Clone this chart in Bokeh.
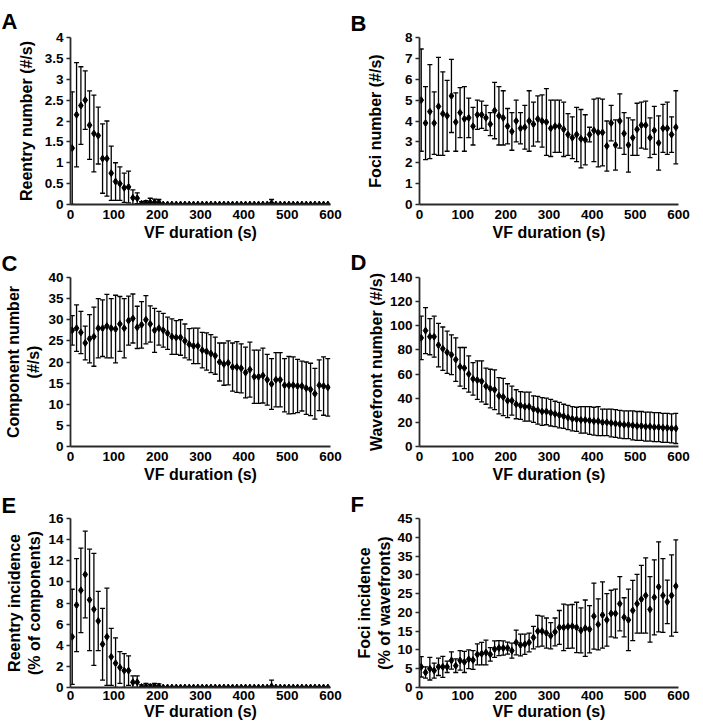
import numpy as np
from bokeh.plotting import figure
from bokeh.models import Range1d, ColumnDataSource, Whisker, TeeHead, FixedTicker, NumeralTickFormatter
from bokeh.layouts import gridplot
from bokeh.embed import file_html
from bokeh.resources import INLINE

# ---------------- data ----------------
vf_time = [4, 14, 24, 34, 44, 54, 64, 74, 84, 94,
           104, 114, 124, 134, 144, 154, 164, 174, 184, 194,
           204, 214, 224, 234, 244, 254, 264, 274, 284, 294,
           304, 314, 324, 334, 344, 354, 364, 374, 384, 394,
           404, 414, 424, 434, 444, 454, 464, 474, 484, 494,
           504, 514, 524, 534, 544, 554, 564, 574, 584, 594]
x_ticks = [0, 100, 200, 300, 400, 500, 600]

reentry_num_mean = [1.35, 2.15, 2.37, 2.50, 1.90, 1.70, 1.65, 1.10, 1.10, 0.75,
                    0.55, 0.50, 0.40, 0.42, 0.16, 0.15, 0.02, 0.03, 0.05, 0.05,
                    0.05, 0, 0, 0, 0, 0, 0, 0, 0, 0,
                    0, 0, 0, 0, 0, 0, 0, 0, 0, 0,
                    0, 0, 0, 0, 0, 0, 0.03, 0, 0, 0,
                    0, 0, 0, 0, 0, 0, 0, 0, 0, 0]
reentry_num_sd = [1.35, 1.25, 0.93, 0.70, 0.82, 0.92, 0.68, 0.83, 0.90, 0.65,
                  0.45, 0.40, 0.35, 0.38, 0.19, 0.13, 0.05, 0.06, 0.10, 0.08,
                  0.07, 0, 0, 0, 0, 0, 0, 0, 0, 0,
                  0, 0, 0, 0, 0, 0, 0, 0, 0, 0,
                  0, 0, 0, 0, 0, 0, 0.09, 0, 0, 0,
                  0, 0, 0, 0, 0, 0, 0, 0, 0, 0]

foci_num_mean = [5.0, 3.9, 4.45, 3.9, 4.7, 4.35, 4.25, 5.2, 3.95, 4.4,
                 4.1, 4.15, 3.75, 4.3, 4.3, 4.15, 3.85, 4.5, 4.25, 4.15,
                 3.75, 3.5, 4.0, 3.65, 3.7, 4.0, 3.85, 4.1, 4.0, 3.95,
                 3.65, 3.75, 3.75, 3.6, 3.35, 3.2, 3.35, 3.15, 3.1, 3.35,
                 3.55, 3.45, 3.45, 2.8, 3.9, 2.85, 4.0, 3.4, 2.85, 3.2,
                 3.6, 3.8, 3.8, 3.2, 3.55, 2.95, 3.65, 3.65, 3.35, 3.7]
foci_num_sd = [2.45, 1.75, 2.25, 1.5, 2.35, 2.0, 1.7, 1.75, 1.4, 1.2,
               1.55, 0.95, 0.9, 0.7, 0.65, 0.6, 0.55, 1.35, 1.4, 1.3,
               0.85, 0.9, 1.0, 0.75, 1.05, 1.45, 1.05, 1.1, 1.25, 1.6,
               1.35, 1.25, 1.25, 1.3, 1.0, 1.0, 1.3, 1.4, 1.2, 0.35,
               1.5, 1.65, 1.6, 1.2, 0.85, 1.2, 1.3, 1.0, 1.3, 0.85,
               1.25, 1.1, 1.15, 0.95, 1.15, 1.3, 1.15, 1.25, 0.85, 1.75]

component_mean = [27.5, 28, 27, 24.5, 25.5, 26, 28, 28, 28.5, 28,
                  27.8, 29, 28, 29.8, 30.3, 28.2, 28.8, 30, 29, 27.5,
                  28, 27.5, 26.8, 26, 25.8, 25.8, 25, 24.2, 23.8, 23.8,
                  22.8, 22.5, 22, 21.5, 20, 19.5, 19.8, 18.8, 18.8, 18.5,
                  17.5, 18.2, 16.5, 16.5, 16.8, 15.8, 14.8, 15.8, 15.8, 14.5,
                  14.5, 14.5, 14.3, 14.3, 13.8, 13.5, 12.5, 14.5, 14.3, 14.0]
component_sd = [3.5, 5.5, 5, 4, 5.7, 7, 7, 6.7, 7.5, 7,
                8, 6.5, 7, 5.8, 5.8, 5, 5.5, 5.7, 4.3, 5.2,
                4, 4, 3.8, 4.2, 4, 4.2, 4, 3.7, 4.2, 4.2,
                4.2, 4.4, 4.5, 4.4, 4.5, 5, 5.2, 5.7, 6, 5.8,
                6, 6.5, 6.3, 6.3, 6.5, 6, 6, 6.4, 6.4, 6.3,
                6.8, 6.7, 6.3, 5.9, 6.2, 6.2, 6, 6, 6.9, 6.8]

wavefront_mean = [90, 96, 91, 91, 84, 81, 78, 76, 72, 66,
                  65, 60, 56, 55, 54, 50, 48, 47, 42, 41,
                  38, 38, 35, 34, 33, 33, 31, 30, 29, 29,
                  28, 27, 26, 25, 24, 23, 22.5, 22, 22, 21.5,
                  21, 21, 20, 20, 19.5, 19, 18.5, 18, 18, 17.5,
                  17, 17, 16.5, 16.5, 16, 16, 15.5, 15.5, 15, 15]
wavefront_sd = [18, 19, 15, 17, 18, 18, 17.5, 16.5, 18, 16,
                17, 15, 13.5, 16, 17, 15, 16, 16.5, 15, 15.5,
                14, 12, 12, 11.5, 12, 12, 11, 11.5, 11.5, 11,
                11, 10.5, 10.5, 10, 10, 10, 10, 11, 11, 11.5,
                11.5, 12, 11, 11, 11.5, 11.5, 11.5, 11.5, 11.5, 12,
                12, 12, 12, 12, 12, 12, 12, 12, 12, 12.5]

reentry_inc_mean = [4.8, 7.8, 9.2, 10.7, 8.3, 7.4, 6.3, 4.1, 4.8, 2.9,
                    2.3, 1.9, 1.6, 1.6, 0.5, 0.5, 0.05, 0.1, 0.05, 0.1,
                    0.1, 0, 0, 0, 0, 0, 0, 0, 0, 0,
                    0, 0, 0, 0, 0, 0, 0, 0, 0, 0,
                    0, 0, 0, 0, 0, 0, 0.1, 0, 0, 0,
                    0, 0, 0, 0, 0, 0, 0, 0, 0, 0]
reentry_inc_sd = [4.5, 4.4, 4.0, 4.1, 4.8, 5.3, 2.8, 3.4, 4.6, 2.7,
                  2.4, 1.5, 1.6, 1.4, 0.6, 0.6, 0.2, 0.3, 0.25, 0.3,
                  0.25, 0, 0, 0, 0, 0, 0, 0, 0, 0,
                  0, 0, 0, 0, 0, 0, 0, 0, 0, 0,
                  0, 0, 0, 0, 0, 0, 0.6, 0, 0, 0,
                  0, 0, 0, 0, 0, 0, 0, 0, 0, 0]

foci_inc_mean = [5.5, 4, 5, 4.5, 5.5, 5.5, 5.5, 7.2, 5.8, 7.2,
                 6.8, 7.5, 7.3, 8.8, 9, 9.3, 8.8, 10.2, 10.5, 10.5,
                 10.5, 9.8, 12, 11.3, 11.5, 12, 13.3, 15, 15, 14.5,
                 13.8, 14.8, 16, 16, 16.2, 16.3, 16, 15.2, 15.8, 15.5,
                 19, 16.8, 19.3, 18, 19.7, 19.7, 22.3, 18.7, 18, 20.5,
                 22.3, 23.5, 24.5, 20.8, 24, 26.8, 24.5, 22.8, 24.5, 27]
foci_inc_sd = [2.7, 1.5, 3, 2, 2.3, 2.8, 1.5, 2.3, 1.8, 2.6,
               2.8, 2.5, 2.5, 2.8, 3, 3.3, 1.8, 2.2, 2, 1.9,
               1.6, 2, 3.3, 2.9, 2.7, 2.5, 3, 4.2, 4, 4,
               3.5, 3.7, 4.5, 6.2, 5.8, 5.8, 6.7, 6, 7.5, 6.3,
               8.8, 6.8, 8.8, 7, 6.2, 6.5, 7.2, 5.2, 8.2, 8,
               7.8, 9, 10, 8.7, 10, 12, 9.8, 5.8, 10.8, 12.3]

yticks_A = [0, 0.5, 1, 1.5, 2, 2.5, 3, 3.5, 4]
yticks_B = [0, 1, 2, 3, 4, 5, 6, 7, 8]
yticks_C = [0, 5, 10, 15, 20, 25, 30, 35, 40]
yticks_D = [0, 20, 40, 60, 80, 100, 120, 140]
yticks_E = [0, 2, 4, 6, 8, 10, 12, 14, 16]
yticks_F = [0, 5, 10, 15, 20, 25, 30, 35, 40, 45]

FONT = "Liberation Sans"
AXC = "#2a2a2a"


def panel(letter, mean, sd, yticks, ylabel, width, height, bl, br, bt, bb,
          title_standoff, ylab_standoff, xlab_standoffs):
    p = figure(width=width, height=height, output_backend="svg", toolbar_location=None,
               x_range=Range1d(0, 600), y_range=Range1d(yticks[0], yticks[-1]),
               min_border_left=bl, min_border_right=br, min_border_top=bt, min_border_bottom=bb)
    p.outline_line_color = None
    p.grid.visible = False

    p.title.text = letter
    p.title.text_font = FONT
    p.title.text_font_style = "bold"
    p.title.text_font_size = "22px"
    p.title.align = "left"
    p.title.offset = -69
    p.title.standoff = title_standoff
    p.title.vertical_align = "bottom"
    p.title.text_color = "black"

    m = np.array(mean, dtype=float)
    s = np.array(sd, dtype=float)
    src = ColumnDataSource(dict(x=vf_time, y=m, upper=m + s, lower=np.maximum(m - s, 0)))
    w = Whisker(source=src, base="x", upper="upper", lower="lower",
                line_color="black", line_width=1.3,
                upper_head=TeeHead(size=5, line_color="black", line_width=1.3),
                lower_head=TeeHead(size=5, line_color="black", line_width=1.3))
    p.add_layout(w)
    p.scatter("x", "y", source=src, marker="diamond", size=7, color="black")

    for ax in (p.xaxis[0], p.yaxis[0]):
        ax.axis_line_color = AXC
        ax.axis_line_width = 1.8
        ax.minor_tick_line_color = None
        ax.major_label_text_font = FONT
        ax.major_label_text_font_style = "bold"
        ax.major_label_text_font_size = "13.5px"
        ax.major_label_text_color = "black"
        ax.axis_label_text_font = FONT
        ax.axis_label_text_font_style = "bold"
        ax.axis_label_text_font_size = "16px"
        ax.axis_label_text_color = "black"
    p.xaxis.ticker = FixedTicker(ticks=x_ticks)
    p.xaxis.major_tick_line_color = None
    p.xaxis.major_tick_out = 0
    p.xaxis.major_tick_in = 0
    p.xaxis.major_label_standoff = xlab_standoffs[0]
    p.xaxis.axis_label_standoff = xlab_standoffs[1]
    p.xaxis.axis_label = "VF duration (s)"

    p.yaxis.ticker = FixedTicker(ticks=yticks)
    p.yaxis.formatter = NumeralTickFormatter(format="0.[0]")
    p.yaxis.major_tick_line_color = AXC
    p.yaxis.major_tick_line_width = 1.3
    p.yaxis.major_tick_out = 4
    p.yaxis.major_tick_in = 0
    p.yaxis.major_label_standoff = 3
    p.yaxis.axis_label_standoff = ylab_standoff
    p.yaxis.axis_label = ylabel
    return p


W1, W2 = 350, 352
pA = panel("A", reentry_num_mean, reentry_num_sd, yticks_A, "Reentry number (#/s)",
           W1, 243, 70, 20, 37, 38, 8, 7, (5, 2))
pB = panel("B", foci_num_mean, foci_num_sd, yticks_B, "Foci number (#/s)",
           W2, 243, 69, 24, 37, 38, 4, 18, (5, 2))
pC = panel("C", component_mean, component_sd, yticks_C, "Component number\n(#/s)",
           W1, 242, 70, 20, 34, 38, 3, 3, (5, 2))
pD = panel("D", wavefront_mean, wavefront_sd, yticks_D, "Wavefront number (#/s)",
           W2, 242, 69, 24, 34, 38, 5, 2, (5, 2))
pE = panel("E", reentry_inc_mean, reentry_inc_sd, yticks_E, "Reentry incidence\n(% of components)",
           W1, 237, 70, 20, 33, 35, 1, 2, (3, 0))
pF = panel("F", foci_inc_mean, foci_inc_sd, yticks_F, "Foci incidence\n(% of wavefronts)",
           W2, 237, 69, 24, 33, 35, 3, 1, (3, 0))

grid = gridplot([[pA, pB], [pC, pD], [pE, pF]], toolbar_location=None)

open("out.html", "w").write(file_html(grid, INLINE))
